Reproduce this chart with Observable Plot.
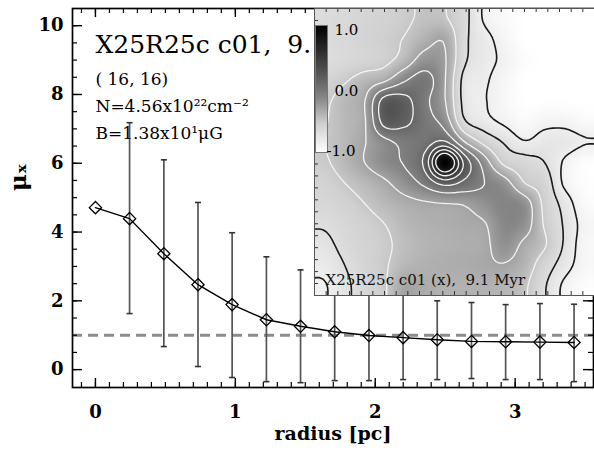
<!DOCTYPE html>
<html><head><meta charset="utf-8">
<script src="https://cdn.jsdelivr.net/npm/d3@7"></script>
<script src="https://cdn.jsdelivr.net/npm/@observablehq/plot@0.6"></script>
<style>
html,body{margin:0;padding:0;background:#fff;}
#wrap{position:relative;width:594px;height:452px;overflow:hidden;background:#fff;}
#main{position:absolute;left:0;top:0;}
#inset{position:absolute;left:314px;top:8px;}
#cbar{position:absolute;left:315px;top:25px;}
svg{overflow:visible;}
</style></head><body>
<div id="wrap"><div id="main"></div><div id="inset"></div><div id="cbar"></div></div>
<script>
// ---- data ----
const radius = [0, 0.244, 0.489, 0.733, 0.977, 1.222, 1.466, 1.71, 1.955, 2.199, 2.443, 2.688, 2.932, 3.177, 3.421];
const mu     = [4.71, 4.39, 3.37, 2.47, 1.89, 1.45, 1.26, 1.10, 0.99, 0.93, 0.87, 0.82, 0.81, 0.80, 0.79];
const muHigh = [null, 7.18, 6.10, 4.86, 3.98, 3.28, 2.90, 2.60, 2.40, 2.20, 2.00, 1.95, 1.89, 1.92, 1.90];
const muLow  = [null, 1.63, 0.67, 0.09, -0.23, -0.35, -0.38, -0.32, -0.32, -0.29, -0.29, -0.26, -0.29, -0.29, -0.35];
const refLevel = [1];
const xMajor = [0, 1, 2, 3];
const yMajor = [0, 2, 4, 6, 8, 10];
const titleText = "X25R25c c01,  9.";
const infoLines = ["( 16, 16)", "N=4.56x10²²cm⁻²", "B=1.38x10¹μG"];
const xLabel = "radius [pc]";
const yLabel = "μₓ";
const insetLabel = "X25R25c c01 (x),  9.1 Myr";
const cbarTicks = [1, 0, -1];
const cbarLabels = ["1.0", "0.0", "-1.0"];
const blackLevels = [-0.85, -0.7];
const whiteLevels = [-0.5, -0.3, -0.1, 0.1, 0.3, 0.5, 0.7];
const shadeDomain = [-1, -0.55, -0.15, 0.2, 1];
const shadeRange = ["#ffffff", "#d0d0d0", "#888888", "#5a5a5a", "#000000"];
// inset map, 14 x 14 samples (rows top to bottom), log scale -1 (white) .. 1 (black)
const insetGrid = [
  [-0.66,-0.63,-0.60,-0.57,-0.53,-0.47,-0.48,-0.65,-0.87,-0.95,-1.00,-1.00,-1.00,-1.00],
  [-0.66,-0.63,-0.59,-0.55,-0.49,-0.38,-0.32,-0.66,-0.80,-0.91,-1.00,-1.00,-1.00,-1.00],
  [-0.68,-0.64,-0.60,-0.55,-0.42,-0.22,-0.28,-0.67,-0.80,-0.88,-0.97,-1.00,-1.00,-1.00],
  [-0.60,-0.52,-0.42,-0.33,-0.12,-0.02,-0.28,-0.76,-0.83,-0.92,-1.00,-1.00,-1.00,-1.00],
  [-0.53,-0.42,-0.31, 0.18, 0.16,-0.05,-0.28,-0.76,-0.84,-0.93,-1.00,-1.00,-1.00,-1.00],
  [-0.51,-0.42,-0.32, 0.18, 0.15,-0.02,-0.18,-0.68,-0.80,-0.88,-0.95,-0.90,-0.90,-0.95],
  [-0.50,-0.42,-0.31,-0.15,-0.05, 0.00, 0.12,-0.30,-0.56,-0.72,-0.84,-0.78,-0.78,-0.84],
  [-0.52,-0.42,-0.30,-0.17,-0.08, 0.15, 1.00, 0.25,-0.20,-0.55,-0.62,-0.70,-0.87,-0.98],
  [-0.58,-0.50,-0.42,-0.33,-0.20,-0.05, 0.18, 0.05,-0.10,-0.22,-0.50,-0.60,-0.88,-0.98],
  [-0.62,-0.57,-0.50,-0.42,-0.36,-0.32,-0.30,-0.28,-0.20,-0.12,-0.20,-0.55,-0.76,-0.95],
  [-0.68,-0.62,-0.56,-0.50,-0.42,-0.38,-0.36,-0.34,-0.31,-0.15,-0.20,-0.52,-0.72,-0.90],
  [-0.74,-0.65,-0.58,-0.53,-0.45,-0.40,-0.38,-0.36,-0.34,-0.20,-0.34,-0.48,-0.72,-0.92],
  [-0.80,-0.70,-0.60,-0.52,-0.42,-0.38,-0.36,-0.35,-0.33,-0.31,-0.40,-0.60,-0.78,-0.92],
  [-0.86,-0.74,-0.62,-0.52,-0.32,-0.35,-0.38,-0.38,-0.38,-0.40,-0.47,-0.68,-0.88,-0.97]
];

// ---- main plot ----
const W = 594, H = 452, mL = 72, mR = 1, mT = 8, mB = 65;
const frameW = W - mL - mR, frameH = H - mT - mB;
const pts = radius.map((r, i) => ({r, mu: mu[i], hi: muHigh[i], lo: muLow[i]}));
const bars = pts.filter(d => d.hi != null);
const xMinor = d3.range(-1, 36).map(i => i / 10);
const yMinor = d3.range(0, 21).map(i => i / 2);
const capSym = {draw(ctx, size) { const w = Math.sqrt(size) / 2; ctx.moveTo(-w, 0); ctx.lineTo(w, 0); }};
const font = "DejaVu Serif";

const main = Plot.plot({
  width: W, height: H,
  marginLeft: mL, marginRight: mR, marginTop: mT, marginBottom: mB,
  style: {fontFamily: font, fontSize: "18px", color: "black", background: "white"},
  x: {domain: [-0.164, 3.56], axis: null},
  y: {domain: [-0.52, 10.5], axis: null},
  marks: [
    Plot.ruleY(refLevel, {stroke: "#8c8c8c", strokeWidth: 3, strokeDasharray: "10,6"}),
    Plot.ruleX(bars, {x: "r", y1: "lo", y2: "hi", stroke: "#555", strokeWidth: 1.7}),
    Plot.dot(bars, {x: "r", y: "hi", symbol: capSym, r: 3.4, stroke: "#333", strokeWidth: 1.6, fill: "none"}),
    Plot.dot(bars, {x: "r", y: "lo", symbol: capSym, r: 3.4, stroke: "#333", strokeWidth: 1.6, fill: "none"}),
    Plot.line(pts, {x: "r", y: "mu", stroke: "black", strokeWidth: 1.4}),
    Plot.dot(pts, {x: "r", y: "mu", symbol: "diamond2", r: 5.5, stroke: "black", strokeWidth: 1.3, fill: "none"}),
    Plot.text([titleText], {text: d => d, frameAnchor: "top-left", textAnchor: "start", lineAnchor: "bottom", dx: 23, dy: 44, fontSize: 25}),
    Plot.text([infoLines[0]], {text: d => d, frameAnchor: "top-left", textAnchor: "start", lineAnchor: "bottom", dx: 23, dy: 76, fontSize: 17}),
    Plot.text([infoLines[1]], {text: d => d, frameAnchor: "top-left", textAnchor: "start", lineAnchor: "bottom", dx: 23, dy: 103, fontSize: 17}),
    Plot.text([infoLines[2]], {text: d => d, frameAnchor: "top-left", textAnchor: "start", lineAnchor: "bottom", dx: 23, dy: 130, fontSize: 17}),
    Plot.axisX(xMajor, {tickSize: 0, tickPadding: 18, fontSize: 18, fontWeight: "bold", label: null, tickFormat: d => String(d)}),
    Plot.axisY(yMajor, {tickSize: 0, tickPadding: 9, fontSize: 18, fontWeight: "bold", label: null, tickFormat: d => String(d)}),
    Plot.text([xLabel], {text: d => d, frameAnchor: "bottom", dy: 52, fontSize: 19, fontWeight: "bold"}),
    Plot.text([yLabel], {text: d => d, frameAnchor: "left", dx: -54, dy: -7, rotate: -90, fontSize: 23, fontWeight: "bold"}),
    Plot.tickX(xMinor, {x: d => d, insetTop: frameH - 5, strokeWidth: 1.2}),
    Plot.tickX(xMajor, {x: d => d, insetTop: frameH - 9, strokeWidth: 1.4}),
    Plot.tickX(xMinor, {x: d => d, insetBottom: frameH - 5, strokeWidth: 1.2}),
    Plot.tickX(xMajor, {x: d => d, insetBottom: frameH - 9, strokeWidth: 1.4}),
    Plot.tickY(yMinor, {y: d => d, insetRight: frameW - 5, strokeWidth: 1.2}),
    Plot.tickY(yMajor, {y: d => d, insetRight: frameW - 10, strokeWidth: 1.4}),
    Plot.tickY(yMinor, {y: d => d, insetLeft: frameW - 5, strokeWidth: 1.2}),
    Plot.tickY(yMajor, {y: d => d, insetLeft: frameW - 10, strokeWidth: 1.4}),
    Plot.frame({strokeWidth: 1.7})
  ]
});
document.getElementById("main").append(main);

// ---- inset map: smooth (Catmull-Rom) resampling of the read grid for drawing ----
const n = insetGrid.length, k = 6, m = n * k;
const at = (r, c) => insetGrid[Math.min(n - 1, Math.max(0, r))][Math.min(n - 1, Math.max(0, c))];
const cr = (p0, p1, p2, p3, t) => 0.5 * (2 * p1 + (-p0 + p2) * t + (2 * p0 - 5 * p1 + 4 * p2 - p3) * t * t + (-p0 + 3 * p1 - 3 * p2 + p3) * t * t * t);
function sample(gy, gx) {
  const iy = Math.floor(gy), ix = Math.floor(gx), ty = gy - iy, tx = gx - ix;
  const rows = [-1, 0, 1, 2].map(d => cr(at(iy + d, ix - 1), at(iy + d, ix), at(iy + d, ix + 1), at(iy + d, ix + 2), tx));
  return Math.max(-1, Math.min(1, cr(rows[0], rows[1], rows[2], rows[3], ty)));
}
const fine = [], finePad = [];
for (let i = -1; i <= m; i++) for (let j = -1; j <= m; j++) {
  const v = sample((i + 0.5) / k - 0.5, (j + 0.5) / k - 0.5);
  finePad.push(v);
  if (i >= 0 && i < m && j >= 0 && j < m) fine.push(v);
}
const IW = 280, IH = 287, U = 24, px = U / m;
const insetTicks = d3.range(1, U);
const contourOpts = {width: m + 2, height: m + 2, x1: -px, x2: U + px, y1: -px, y2: U + px, value: d => d, fill: "none", clip: true};
const inset = Plot.plot({
  width: IW, height: IH, margin: 0,
  style: {fontFamily: font, background: "white"},
  x: {domain: [0, U], axis: null},
  y: {domain: [U, 0], axis: null},
  color: {type: "linear", domain: shadeDomain, range: shadeRange},
  marks: [
    Plot.raster(fine, {width: m, height: m, x1: 0, x2: U, y1: 0, y2: U, fill: d => d, imageRendering: "auto"}),
    Plot.contour(finePad, {...contourOpts, thresholds: whiteLevels, stroke: "#f4f4f4", strokeWidth: 1.3}),
    Plot.contour(finePad, {...contourOpts, thresholds: blackLevels, stroke: "#1a1a1a", strokeWidth: 1.6}),
    Plot.text([insetLabel], {text: d => d, frameAnchor: "bottom-left", textAnchor: "start", lineAnchor: "bottom", dx: 11, dy: -11, fontSize: 15, fill: "#111"}),
    Plot.tickX(insetTicks, {x: d => d, insetBottom: IH - 4, stroke: "#333"}),
    Plot.tickX(insetTicks, {x: d => d, insetTop: IH - 4, stroke: "#333"}),
    Plot.tickY(insetTicks, {y: d => d, insetRight: IW - 4, stroke: "#333"}),
    Plot.frame({stroke: "#555", strokeWidth: 1})
  ]
});
document.getElementById("inset").append(inset);

// ---- colour bar ----
const cbar = Plot.plot({
  width: 56, height: 127, marginLeft: 0, marginRight: 44, marginTop: 0, marginBottom: 0,
  style: {fontFamily: font, fontSize: "15px", background: "transparent", overflow: "visible"},
  x: {domain: [0, 1], axis: null},
  y: {domain: [-1, 1], axis: null},
  color: {type: "linear", domain: shadeDomain, range: shadeRange},
  marks: [
    Plot.raster({width: 1, height: 64, x1: 0, x2: 1, y1: -1, y2: 1, fill: (x, y) => y, imageRendering: "auto"}),
    Plot.frame({stroke: "#777", strokeWidth: 1}),
    Plot.text([0], {x: () => 1, y: i => cbarTicks[i], text: i => cbarLabels[i], dx: 7, textAnchor: "start", lineAnchor: "top", dy: -1}),
    Plot.text([1], {x: () => 1, y: i => cbarTicks[i], text: i => cbarLabels[i], dx: 7, textAnchor: "start", lineAnchor: "middle", dy: 2}),
    Plot.text([2], {x: () => 0, y: i => cbarTicks[i], text: i => cbarLabels[i], dx: 11, textAnchor: "start", lineAnchor: "bottom", dy: 3})
  ]
});
document.getElementById("cbar").append(cbar);
</script>
</body></html>
